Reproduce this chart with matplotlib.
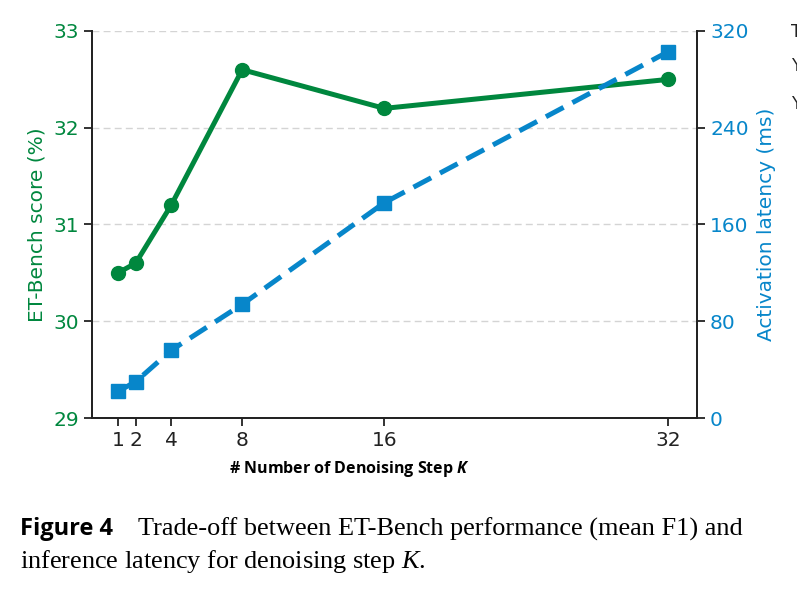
import numpy as np
import matplotlib.pyplot as plt

plt.rcParams['mathtext.fontset'] = 'custom'
plt.rcParams['mathtext.rm'] = 'Liberation Serif'
plt.rcParams['mathtext.it'] = 'Liberation Serif:italic'
plt.rcParams['mathtext.bf'] = 'Open Sans:bold'
plt.rcParams['mathtext.bfit'] = 'Open Sans:bold:italic'

steps = [1, 2, 4, 8, 16, 32]
score = [30.5, 30.6, 31.2, 32.6, 32.2, 32.5]  # ET-Bench score (%)
latency = [22, 30, 56, 94, 178, 303]  # ms
score_ticks = [29, 30, 31, 32, 33]
lat_ticks = [0, 80, 160, 240, 320]

green = "#00873E"
blue = "#0786CA"

fig = plt.figure(figsize=(7.97, 5.90), dpi=100)
ax = fig.add_axes([0.1154, 0.2915, 0.759, 0.656])
ax2 = ax.twinx()

ax.set_ylim(29, 33)
ax.set_yticks(score_ticks)
ax.grid(True, axis="y", linestyle=(0, (5, 3)), color="#d4d4d4", lw=1)
ax.set_axisbelow(True)
ax.plot(steps, score, "-o", color=green, lw=3.6, ms=10, zorder=3)

ax2.set_ylim(0, 320)
ax2.set_yticks(lat_ticks)
ax2.plot(steps, latency, "-s", color=blue, lw=3.6, ms=10, dashes=(4, 2), zorder=3)

ax.set_xticks(steps)
ax.set_xlim(-0.46, 33.6)

for a in (ax, ax2):
    a.spines["top"].set_visible(False)
    for s in a.spines.values():
        s.set_color("#222222")
        s.set_linewidth(1.3)
ax.tick_params(axis="y", colors="#222222", labelcolor=green, labelsize=14.5, length=6, width=1.3)
ax2.tick_params(axis="y", colors="#222222", labelcolor=blue, labelsize=14.5, length=6, width=1.3)
ax.tick_params(axis="x", colors="#222222", labelcolor="#222222", labelsize=14.5, length=6, width=1.3)

ax.set_ylabel("ET-Bench score (%)", color=green, fontsize=14.5, labelpad=5)
ax2.set_ylabel("Activation latency (ms)", color=blue, fontsize=14.5, labelpad=6)
ax.set_xlabel("# Number of Denoising Step $\\mathbfit{K}$", fontsize=11.5,
              fontfamily="Open Sans", fontweight="bold")
ax.xaxis.set_label_coords(0.426, -0.105)

# legend fragments cut off by the right edge, as in the source image
for yy, ch in zip([0.945, 0.888, 0.823], ["T", "Y", "Y"]):
    fig.text(0.993, yy, ch, fontsize=12, color="#222222", va="center")

fig.text(0.025, 0.093, "Figure 4", fontsize=17, fontfamily="Open Sans", fontweight="bold")
fig.text(0.173, 0.093, "Trade-off between ET-Bench performance (mean F1) and",
         fontsize=18.9, fontfamily="Liberation Serif")
fig.text(0.025, 0.038, "inference latency for denoising step $K$.",
         fontsize=18.9, fontfamily="Liberation Serif")

fig.savefig("out.png", dpi=100)
